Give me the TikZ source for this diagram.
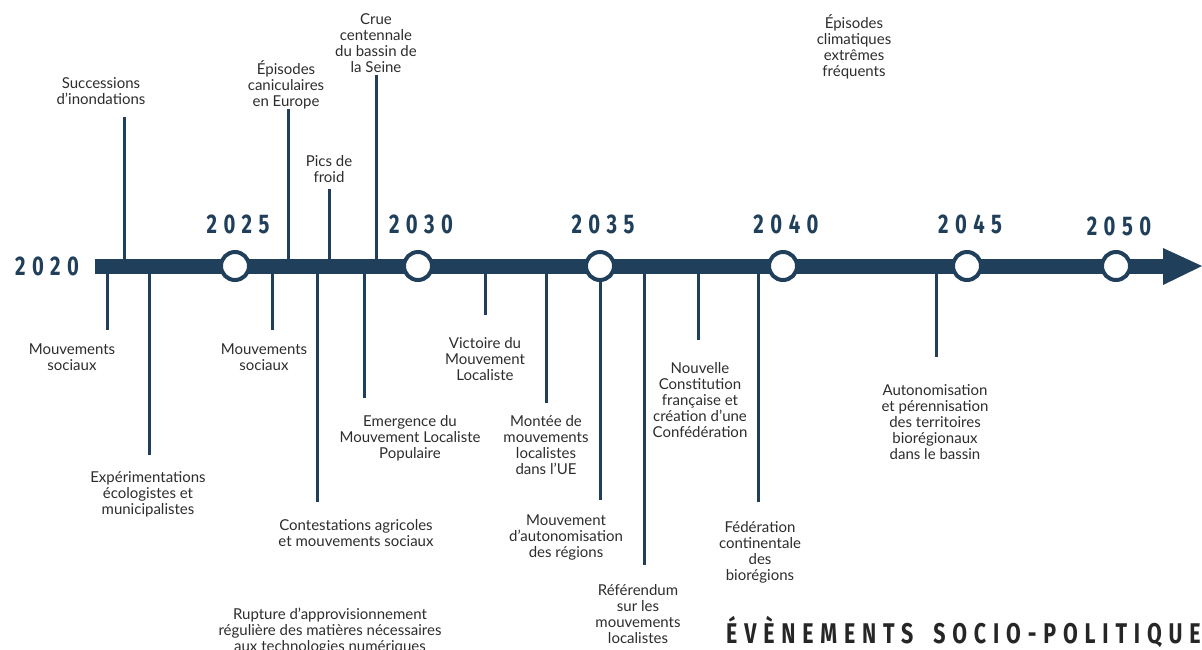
\documentclass[tikz,border=0pt]{standalone}
\usepackage{fontspec}
\setmainfont{Lato}
\newfontfamily\yearfont[FakeStretch=0.75,LetterSpace=24]{Fira Sans}
\definecolor{navy}{RGB}{31,63,90}
\definecolor{txt}{RGB}{45,45,45}
\begin{document}
\begin{tikzpicture}[x=1pt,y=-1pt,
  ev/.style={font=\fontsize{15}{16}\selectfont, align=center, text=txt, inner sep=0pt},
  yr/.style={font=\yearfont\bfseries\fontsize{27}{27}\selectfont, text=navy, inner sep=0pt},
  titlestyle/.style={font=\yearfont\bfseries\fontsize{28.5}{28.5}\selectfont, text=black!85, inner sep=0pt},
  evline/.style={draw=navy, line width=3pt},
  yearcirc/.style={circle, draw=navy, line width=4pt, fill=white, minimum size=28pt, inner sep=0pt}]
\useasboundingbox (0,0) rectangle (1202,649);

% event texts above
\node[ev] (succ) at (101,91) {Successions\\d’inondations};
\node[ev] (canic) at (286,85) {Épisodes\\caniculaires\\en Europe};
\node[ev] (pics) at (329,169) {Pics de\\froid};
\node[ev] (crue) at (376,43) {Crue\\centennale\\du bassin de\\la Seine};
\node[ev] (clim) at (854,47) {Épisodes\\climatiques\\extrêmes\\fréquents};

% event texts below
\node[ev] (ms1) at (72,357) {Mouvements\\sociaux};
\node[ev] (exp) at (148,494) {Expérimentations\\écologistes et\\municipalistes};
\node[ev] (ms2) at (264,357) {Mouvements\\sociaux};
\node[ev] (contest) at (356,533) {Contestations agricoles\\et mouvements sociaux};
\node[ev] (emerg) at (410,438) {Emergence du\\Mouvement Localiste\\Populaire};
\node[ev] (rupt) at (330,631) {Rupture d’approvisionnement\\régulière des matières nécessaires\\aux technologies numériques};
\node[ev] (vict) at (485,359) {Victoire du\\Mouvement\\Localiste};
\node[ev] (montee) at (546,445) {Montée de\\mouvements\\localistes\\dans l’UE};
\node[ev] (auton) at (566,537) {Mouvement\\d’autonomisation\\des régions};
\node[ev] (refer) at (638,614) {Référendum\\sur les\\mouvements\\localistes};
\node[ev] (constit) at (700,400) {Nouvelle\\Constitution\\française et\\création d’une\\Confédération};
\node[ev] (feder) at (760,552) {Fédération\\continentale\\des\\biorégions};
\node[ev] (biore) at (935,422) {Autonomisation\\et pérennisation\\des territoires\\biorégionaux\\dans le bassin};

% tick coordinates (axis end, free end)
\foreach \n/\x/\e in {succ/124/117, canic/288/109, pics/329/189, crue/376/75,
  ms1/107/330, exp/149/455, ms2/272/330, contest/317/502, emerg/364/398,
  vict/485/315, montee/546/403, auton/600/500, refer/644/565, constit/698/340,
  feder/758/502, biore/936/357}{
  \coordinate (\n-a) at (\x,266);
  \coordinate (\n-e) at (\x,\e);
  \draw[evline] (\n-a) -- (\n-e);
}

% axis
\coordinate (ax0) at (95,266);
\coordinate (ax1) at (1164,266);
\draw[navy, line width=15pt] (ax0) -- (ax1);
\fill[navy] (1163,248) -- (1202,266) -- (1163,285) -- cycle;

% year circles
\foreach \n/\x in {c2025/235, c2030/418, c2035/600, c2040/783, c2045/967, c2050/1116}{
  \node[yearcirc] (\n) at (\x,266) {};
}

% year labels
\node[yr] (y2020) at (47,266) {2020};
\node[yr] (y2025) at (238,224) {2025};
\node[yr] (y2030) at (421,224) {2030};
\node[yr] (y2035) at (603,224) {2035};
\node[yr] (y2040) at (786,224) {2040};
\node[yr] (y2045) at (970,224) {2045};
\node[yr] (y2050) at (1119,226) {2050};

% title
\node[titlestyle, anchor=west] (title) at (726,632) {ÉVÈNEMENTS\hspace{8pt} SOCIO-POLITIQUE};
\end{tikzpicture}
\end{document}
